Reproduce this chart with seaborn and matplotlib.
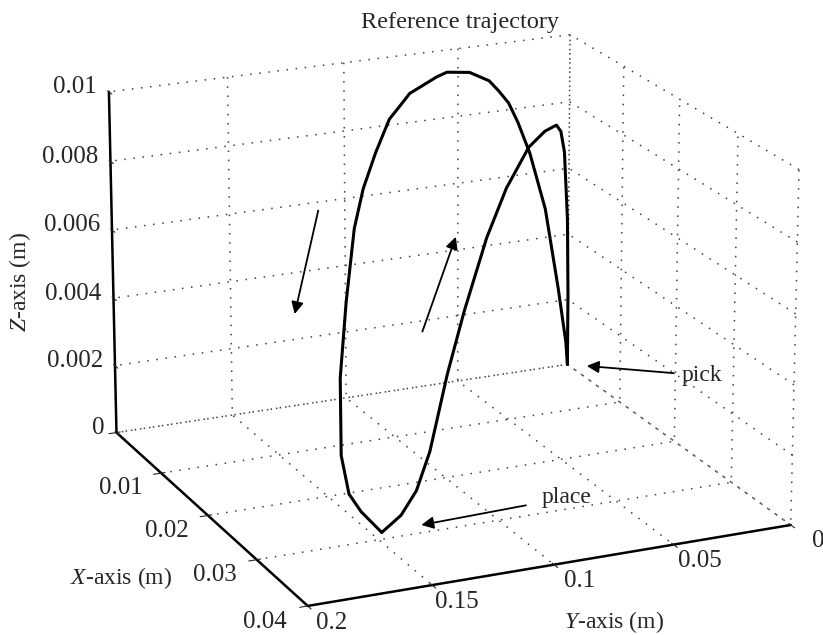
import matplotlib
matplotlib.use("Agg")
import matplotlib.pyplot as plt
import seaborn as sns
from mpl_toolkits.mplot3d import proj3d

# reference trajectory (m)
# pick -> high arch -> place
arch_x = [0.0, 0.0, 0.0008, 0.0011, 0.0015, 0.0018, 0.0026, 0.0035, 0.0041, 0.0057,
          0.0058, 0.0058, 0.0065, 0.0068, 0.0071, 0.0081, 0.0089, 0.0106, 0.0137,
          0.0173, 0.0212, 0.0236, 0.0254, 0.0287]
arch_y = [0.0, 0.0008, 0.0064, 0.0132, 0.0213, 0.0274, 0.0334, 0.0399, 0.0455, 0.0577,
          0.0678, 0.0723, 0.0855, 0.0905, 0.0956, 0.1037, 0.1108, 0.1183, 0.1285,
          0.1388, 0.1468, 0.1487, 0.1475, 0.146]
arch_z = [0.0, 0.0007, 0.0025, 0.0050, 0.0068, 0.0078, 0.0085, 0.0090, 0.0094, 0.0099,
          0.0100, 0.0099, 0.0096, 0.0093, 0.0090, 0.0082, 0.0073, 0.0064, 0.0047,
          0.0030, 0.0013, 0.0005, 0.0002, 0.0]

# place -> low arch -> pick
ret_x = [0.0287, 0.0260, 0.0237, 0.0218, 0.0192, 0.0166, 0.0131, 0.0101, 0.0067,
         0.0041, 0.0021, 0.0013, 0.0007, 0.0002, 0.0, 0.0]
ret_y = [0.146, 0.1321, 0.1206, 0.1107, 0.0975, 0.0845, 0.0669, 0.0515, 0.0339,
         0.0207, 0.0108, 0.0069, 0.0038, 0.0010, 0.0, 0.0]
ret_z = [0.0, 0.0, 0.0003, 0.0011, 0.0029, 0.0043, 0.0059, 0.0069, 0.0076,
         0.0077, 0.0076, 0.0073, 0.0066, 0.0045, 0.0022, 0.0]

pick = (0.0, 0.0, 0.0)
place = (0.0287, 0.146, 0.0)

# motion direction arrows (tail, head)
arrow_down = [(0.0, 0.1116, 0.00575), (0.0, 0.1223, 0.00276)]
arrow_up = [(0.0, 0.0659, 0.00167), (0.0, 0.0509, 0.0044)]

x_ticks = [0, 0.01, 0.02, 0.03, 0.04]
x_labels = ["", "0.01", "0.02", "0.03", "0.04"]
y_ticks = [0, 0.05, 0.1, 0.15, 0.2]
y_labels = ["0", "0.05", "0.1", "0.15", "0.2"]
z_ticks = [0, 0.002, 0.004, 0.006, 0.008, 0.01]
z_labels = ["0", "0.002", "0.004", "0.006", "0.008", "0.01"]

sns.set_style("white")
plt.rcParams["font.family"] = ["Liberation Serif", "DejaVu Serif"]
plt.rcParams["mathtext.fontset"] = "custom"
plt.rcParams["mathtext.rm"] = "Liberation Serif"
plt.rcParams["mathtext.it"] = "Liberation Serif:italic"

fig = plt.figure(figsize=(8.23, 6.35), dpi=100)
ax = fig.add_axes([0.031, 0.005, 1.0, 1.0], projection="3d")
ax.set_proj_type("persp", focal_length=1.5)
ax.view_init(elev=19, azim=-24)
ax.set_box_aspect((4, 4, 2.85), zoom=1.25)

ax.plot(arch_x, arch_y, arch_z, color="black", lw=2.2)
ax.plot(ret_x, ret_y, ret_z, color="black", lw=2.2)

ax.set_xlim(0, 0.04)
ax.set_ylim(0.2, 0)
ax.set_zlim(0, 0.01)
ax.set_xticks(x_ticks)
ax.set_yticks(y_ticks)
ax.set_zticks(z_ticks)
ax.set_xticklabels([])
ax.set_yticklabels([])
ax.set_zticklabels([])
ax.zaxis.set_ticks_position("upper")

for axis in (ax.xaxis, ax.yaxis, ax.zaxis):
    axis.set_pane_color((1, 1, 1, 1))
    axis._axinfo["grid"].update(color="0.25", linewidth=1.1, linestyle=(0, (1, 5)))
    axis.line.set_linewidth(1.8)
    axis.line.set_color("black")

fig.text(0.147, 0.090, r"$\mathit{X}$-axis (m)", fontsize=17, ha="center", va="center")
fig.text(0.746, 0.021, r"$\mathit{Y}$-axis (m)", fontsize=17, ha="center", va="center")
fig.text(0.024, 0.556, r"$\mathit{Z}$-axis (m)", fontsize=17, ha="center", va="center",
         rotation=90)
fig.text(0.559, 0.965, "Reference trajectory", fontsize=17.5, ha="center", va="center")

fig.canvas.draw()


def to2d(x, y, z):
    x2, y2, _ = proj3d.proj_transform(x, y, z, ax.get_proj())
    return (x2, y2)


# MATLAB-like tick labels, placed through the 3D projection
tick_fs = 18
for xv, lab in zip(x_ticks, x_labels):
    if lab:
        ax.text2D(*to2d(xv, 0.217, -0.00025), lab, transform=ax.transData,
                  fontsize=tick_fs, ha="center", va="center")
for yv, lab in zip(y_ticks, y_labels):
    ax.text2D(*to2d(0.0445, yv, 0.00012), lab, transform=ax.transData,
              fontsize=tick_fs, ha="center", va="center")
for zv, lab in zip(z_ticks, z_labels):
    ax.text2D(*to2d(0.0, 0.205, zv + 0.00018), lab, transform=ax.transData,
              fontsize=tick_fs, ha="right", va="center")

arrow_kw = dict(arrowstyle="-|>", color="black", lw=1.3, mutation_scale=18)
ax.annotate("pick", xy=to2d(*pick), xycoords="data", xytext=(82, -8),
            textcoords="offset points", fontsize=17, va="center", ha="left",
            arrowprops=dict(shrinkA=3, shrinkB=14, **arrow_kw))
ax.annotate("place", xy=to2d(*place), xycoords="data", xytext=(115, 25),
            textcoords="offset points", fontsize=17, va="center", ha="left",
            arrowprops=dict(shrinkA=9, shrinkB=29, **arrow_kw))
for tail, head in (arrow_down, arrow_up):
    ax.annotate("", xy=to2d(*head), xycoords="data", xytext=to2d(*tail),
                textcoords="data",
                arrowprops=dict(shrinkA=0, shrinkB=0, **arrow_kw))

fig.savefig("out.png", dpi=100)
